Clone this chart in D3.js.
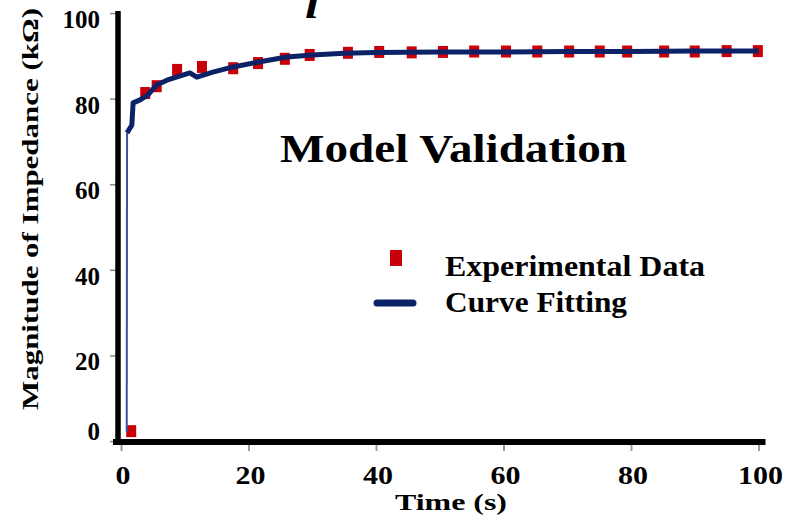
<!DOCTYPE html>
<html>
<head>
<meta charset="utf-8">
<script src="https://cdn.jsdelivr.net/npm/d3@7"></script>
<style>
  html, body { margin: 0; padding: 0; background: #fff; }
  svg { display: block; }
  text { font-family: "Liberation Serif", "DejaVu Serif Condensed", "DejaVu Serif", serif; font-weight: 700; fill: #000; }
</style>
</head>
<body>
<svg id="chart" width="794" height="520"></svg>
<script>
// ---- data ----
const expTime = [1.6, 3.8, 5.6, 8.8, 12.7, 17.6, 21.5, 25.7, 29.6, 35.6, 40.5, 45.6, 50.5, 55.4, 60.4, 65.3, 70.3, 75.1, 79.4, 85.2, 90.0, 95.0, 99.9];
const expValue = [2.3, 81.3, 82.9, 86.7, 87.4, 87.1, 88.3, 89.3, 90.2, 90.7, 90.9, 90.8, 90.9, 91.0, 91.0, 91.0, 91.0, 91.0, 91.0, 91.0, 91.0, 91.1, 91.1];
const fitTime = [0.9, 0.95, 1.7, 1.9, 3.0, 4.2, 5.6, 7.2, 9.3, 10.8, 11.9, 14.4, 17.6, 21.8, 26.0, 30, 35, 40, 50, 60, 70, 80, 90, 100];
const fitValue = [2.1, 72.0, 73.8, 79.0, 79.7, 80.8, 83.2, 84.3, 85.3, 86.0, 85.0, 86.2, 87.4, 88.6, 89.7, 90.2, 90.6, 90.8, 90.9, 90.9, 91.0, 91.0, 91.1, 91.1];
const xTicks = [0, 20, 40, 60, 80, 100];
const yTicks = [0, 20, 40, 60, 80, 100];
const title = "Model Validation";
const xLabel = "Time (s)";
const yLabel = "Magnitude of Impedance (kΩ)";
const seriesNames = ["Experimental Data", "Curve Fitting"];

// ---- chart ----
const svg = d3.select("#chart");
svg.append("rect").attr("width", 794).attr("height", 520).attr("fill", "#fff");

const x = d3.scaleLinear().domain([0, 100]).range([121, 758.5]);
const y = d3.scaleLinear().domain([0, 100]).range([441, 13]);

const red = "#c8000a";
const navy = "#0b2266";

// cropped italic glyph at top (cut off in the original figure too)
svg.append("text").attr("x", 305).attr("y", 18)
  .attr("font-size", 40).attr("font-style", "italic")
  .attr("textLength", 14).attr("lengthAdjust", "spacingAndGlyphs").text("l");

// tick marks (gray)
const yAxis = d3.axisLeft(y).tickValues(yTicks).tickSize(6).tickFormat("");
const gy = svg.append("g").attr("transform", `translate(${x(0) - 5},0)`).call(yAxis);
gy.select(".domain").remove();
gy.selectAll(".tick line").attr("stroke", "#888").attr("stroke-width", 1.5);

const xAxis = d3.axisBottom(x).tickValues(xTicks).tickSize(6).tickFormat("");
const gx = svg.append("g").attr("transform", `translate(0,${y(0) + 4})`).call(xAxis);
gx.select(".domain").remove();
gx.selectAll(".tick line").attr("stroke", "#999").attr("stroke-width", 2);

// axis lines
const defs = svg.append("defs");
defs.append("filter").attr("id", "blur").append("feGaussianBlur").attr("stdDeviation", 1.5);
svg.append("line")
  .attr("x1", x(0) - 6).attr("x2", x(100) + 8)
  .attr("y1", y(0) + 5).attr("y2", y(0) + 5)
  .attr("stroke", "#aaa").attr("stroke-width", 4).attr("filter", "url(#blur)");
svg.append("line")
  .attr("x1", x(0) - 8).attr("x2", x(100) + 7)
  .attr("y1", y(0) + 1).attr("y2", y(0) + 1)
  .attr("stroke", "#000").attr("stroke-width", 6);
svg.append("line")
  .attr("x1", x(0) - 3).attr("x2", x(0) - 3)
  .attr("y1", y(100) - 2).attr("y2", y(0) + 3)
  .attr("stroke", "#000").attr("stroke-width", 5.5);

// y tick labels
svg.append("g").selectAll("text").data(yTicks).join("text")
  .attr("x", 100)
  .attr("y", d => Math.min(y(d) + 15, y(0) - 1))
  .attr("text-anchor", "end")
  .attr("font-size", 25)
  .attr("textLength", d => String(d).length * 12.5)
  .attr("lengthAdjust", "spacingAndGlyphs")
  .text(d => d);

// x tick labels
svg.append("g").selectAll("text").data(xTicks).join("text")
  .attr("x", d => x(d) + 2).attr("y", 484)
  .attr("text-anchor", "middle")
  .attr("font-size", 25)
  .attr("textLength", d => String(d).length * 15)
  .attr("lengthAdjust", "spacingAndGlyphs")
  .text(d => d);

// axis titles
svg.append("text")
  .attr("x", 451).attr("y", 510)
  .attr("text-anchor", "middle").attr("font-size", 24)
  .attr("textLength", 112).attr("lengthAdjust", "spacingAndGlyphs")
  .text(xLabel);

svg.append("text")
  .attr("transform", "translate(38,410) rotate(-90)")
  .attr("x", 0).attr("y", 0)
  .attr("font-size", 22.5)
  .attr("textLength", 402).attr("lengthAdjust", "spacingAndGlyphs")
  .text(yLabel);

// title
svg.append("text").attr("x", 280).attr("y", 162)
  .attr("font-size", 40)
  .attr("textLength", 347).attr("lengthAdjust", "spacingAndGlyphs")
  .text(title);

// experimental markers
const expData = expTime.map((t, i) => ({ t, v: expValue[i] }));
svg.append("g").selectAll("rect").data(expData).join("rect")
  .attr("x", d => x(d.t) - 5)
  .attr("y", d => y(d.v) - 6)
  .attr("width", 10).attr("height", 12)
  .attr("fill", red);

// fitted curve
const fitData = fitTime.map((t, i) => ({ t, v: fitValue[i] }));
const line = d3.line().x(d => x(d.t)).y(d => y(d.v));
svg.append("path").datum(fitData.slice(0, 2))
  .attr("d", line).attr("fill", "none")
  .attr("stroke", "#3a55a0").attr("stroke-width", 2);
svg.append("path").datum(fitData.slice(1))
  .attr("d", line).attr("fill", "none")
  .attr("stroke", navy).attr("stroke-width", 5)
  .attr("stroke-linejoin", "round").attr("stroke-linecap", "butt");

// legend
svg.append("rect").attr("x", 390).attr("y", 250).attr("width", 12).attr("height", 16).attr("fill", red);
svg.append("line").attr("x1", 377).attr("x2", 413).attr("y1", 303).attr("y2", 303)
  .attr("stroke", navy).attr("stroke-width", 7).attr("stroke-linecap", "round");
const legendWidths = [260, 182];
svg.append("g").selectAll("text").data(seriesNames).join("text")
  .attr("x", 445).attr("y", (d, i) => 276 + i * 36)
  .attr("font-size", 29)
  .attr("textLength", (d, i) => legendWidths[i])
  .attr("lengthAdjust", "spacingAndGlyphs")
  .text(d => d);
</script>
</body>
</html>
